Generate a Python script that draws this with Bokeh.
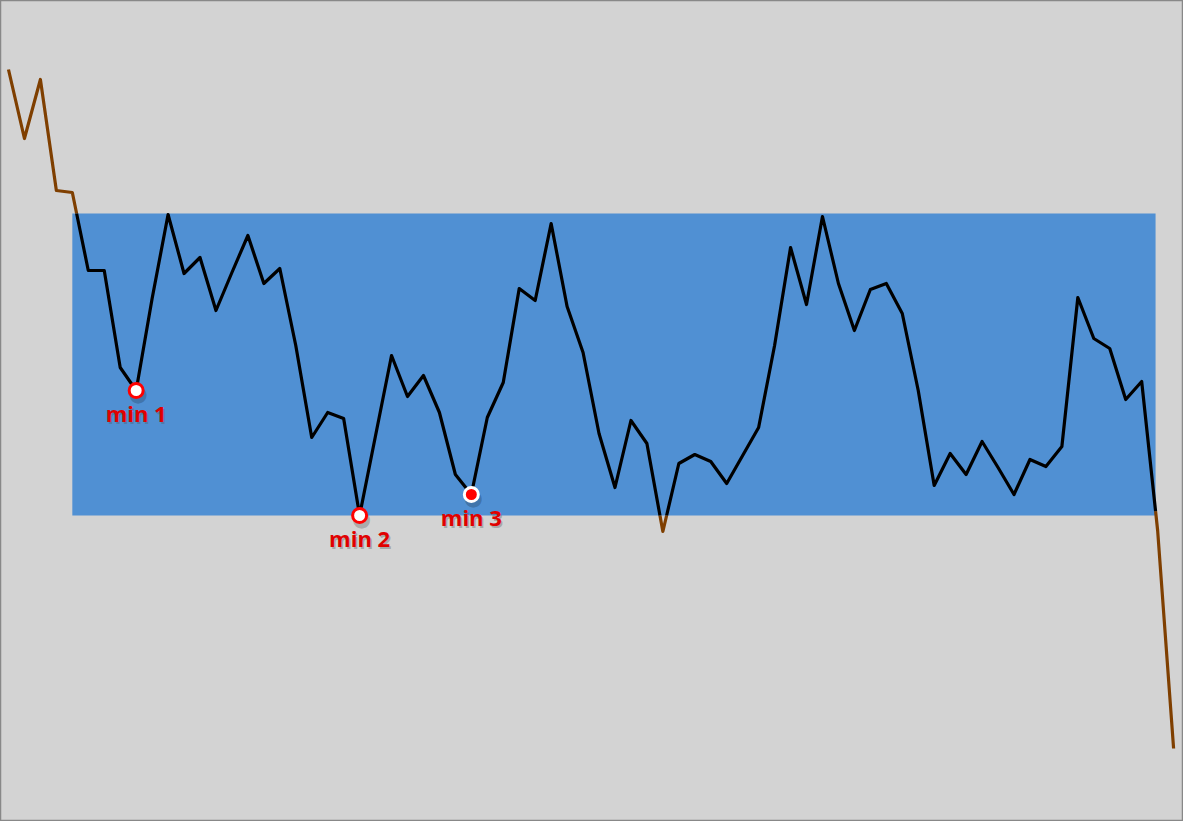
from bokeh.plotting import figure
from bokeh.models import ColumnDataSource
from bokeh.core.properties import value
from bokeh.embed import file_html
from bokeh.resources import INLINE

# ---- data ----
x_idx = list(range(74))
values = [75.2, 68.3, 74.2, 63.1, 62.9, 55.1, 55.1, 45.4, 43.1, 52.3,
          60.7, 54.8, 56.4, 51.1, 54.9, 58.6, 53.8, 55.3, 47.6, 38.4,
          40.9, 40.3, 30.6, 38.6, 46.6, 42.5, 44.6, 40.9, 34.7, 32.7,
          40.4, 43.9, 53.3, 52.1, 59.8, 51.5, 46.9, 38.8, 33.4, 40.1,
          37.8, 29.0, 35.8, 36.7, 36.0, 33.8, 36.6, 39.4, 47.6, 57.4,
          51.7, 60.5, 53.8, 49.1, 53.2, 53.8, 50.8, 43.1, 33.6, 36.8,
          34.7, 38.0, 35.4, 32.7, 36.2, 35.5, 37.5, 52.4, 48.3, 47.3,
          42.2, 44.0, 29.1, 7.3]
band_x = [4.0, 71.87]
band_y = [30.6, 60.8]
min_idx = [8, 22, 29]
min_labels = ["min 1", "min 2", "min 3"]

# ---- styles ----
BG = "#d3d3d3"
BAND = "#5090d3"
INSIDE = "#000000"
OUTSIDE = "#7f3f00"
RED = "#e00000"
marker_fill = ["#ffffff", "#ffffff", "#ff0000"]
marker_line = ["#ff0000", "#ff0000", "#ffffff"]

W, H = 1183, 821
p = figure(width=W, height=H, output_backend="svg", toolbar_location=None,
           x_range=(-0.5, 73.62), y_range=(0, 82.1), min_border=0,
           background_fill_color=BG, border_fill_color=BG,
           outline_line_color="#888888", outline_line_width=1.5)
p.axis.visible = False
p.grid.visible = False

# band
p.quad(left=[band_x[0]], right=[band_x[1]], bottom=[band_y[0]], top=[band_y[1]],
       fill_color=BAND, line_color=None)


def split_runs(xs, ys, x0, x1, y0, y1):
    def inside(x, y):
        return x0 <= x <= x1 and y0 <= y <= y1
    runs = []
    for i in range(len(xs) - 1):
        ax, ay, bx, by = xs[i], ys[i], xs[i + 1], ys[i + 1]
        ts = [0.0, 1.0]
        for a, b, c in ((ax, bx, x0), (ax, bx, x1), (ay, by, y0), (ay, by, y1)):
            if b != a:
                t = (c - a) / (b - a)
                if 0 < t < 1:
                    ts.append(t)
        ts = sorted(set(ts))
        for t0, t1 in zip(ts[:-1], ts[1:]):
            tm = (t0 + t1) / 2
            ins = inside(ax + tm * (bx - ax), ay + tm * (by - ay))
            pa = (ax + t0 * (bx - ax), ay + t0 * (by - ay))
            pb = (ax + t1 * (bx - ax), ay + t1 * (by - ay))
            if runs and runs[-1][0] == ins:
                runs[-1][1].append(pb[0])
                runs[-1][2].append(pb[1])
            else:
                runs.append([ins, [pa[0], pb[0]], [pa[1], pb[1]]])
    return runs


runs = split_runs(x_idx, values, band_x[0], band_x[1], band_y[0], band_y[1])
out_x = [r[1] for r in runs if not r[0]]
out_y = [r[2] for r in runs if not r[0]]
in_x = [r[1] for r in runs if r[0]]
in_y = [r[2] for r in runs if r[0]]

p.multi_line(xs=out_x, ys=out_y, line_color=OUTSIDE, line_width=3.2, line_join="round")
p.multi_line(xs=in_x, ys=in_y, line_color=INSIDE, line_width=3.2, line_join="round")

# minima markers
mx = [x_idx[i] for i in min_idx]
my = [values[i] for i in min_idx]
src = ColumnDataSource(dict(x=mx, y=my, label=min_labels,
                            fill=marker_fill, line=marker_line))

# soft shadows
p.text(x="x", y="y", text=value("\u25cf"), source=src, text_color="#000000",
       text_alpha=0.2, text_font=value("DejaVu Sans"), text_font_size="22px",
       text_align="center", text_baseline="middle", x_offset=2, y_offset=3)
p.scatter(x="x", y="y", source=src, marker="circle", size=14,
          fill_color="fill", line_color="line", line_width=3)

p.text(x="x", y="y", text="label", source=src, text_color="#555555", text_alpha=0.35,
       text_font=value("Open Sans"), text_font_size="22px", text_font_style="bold",
       text_align="center", text_baseline="alphabetic", x_offset=1.5, y_offset=24)
p.text(x="x", y="y", text="label", source=src, text_color=RED,
       text_font=value("Open Sans"), text_font_size="22px", text_font_style="bold",
       text_align="center", text_baseline="alphabetic", x_offset=0, y_offset=22.5)

open("out.html", "w").write(file_html(p, INLINE))
